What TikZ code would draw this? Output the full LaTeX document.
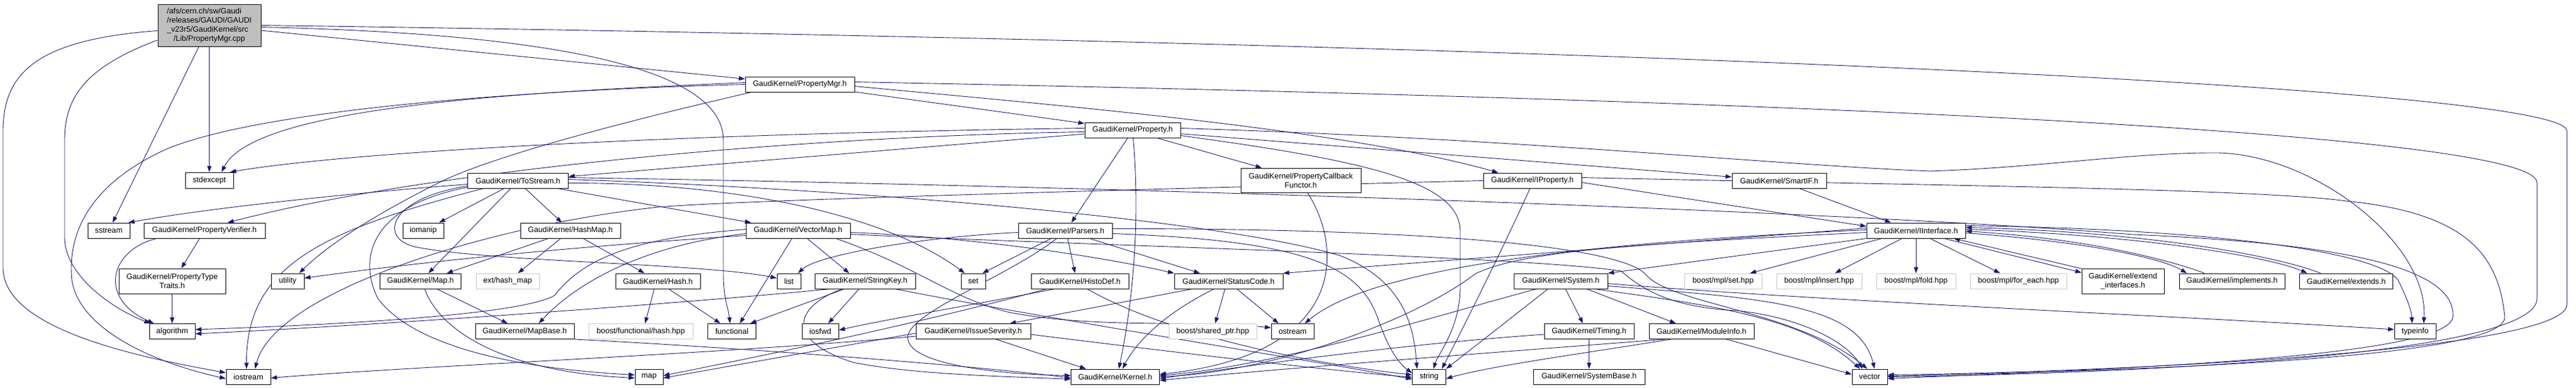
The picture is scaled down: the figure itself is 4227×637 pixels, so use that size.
\documentclass[tikz,border=0pt]{standalone}
\usepackage{fontspec}
\setmainfont{Liberation Sans}
\usetikzlibrary{arrows.meta,backgrounds}
\definecolor{edgeblue}{RGB}{25,25,112}
\definecolor{srcgray}{RGB}{191,191,191}
\definecolor{extgray}{RGB}{200,200,200}
\begin{document}
\begin{tikzpicture}[x=1pt, y=-1pt, >={Triangle[length=10pt,width=7pt]},
    every node/.style={shape=rectangle, draw, fill=white, align=center, inner sep=0pt, minimum height=25pt, line width=1pt, font=\fontsize{12.7}{15}\selectfont},
    src/.style={fill=srcgray},
    ext/.style={draw=extgray},
    dep/.style={->, draw=edgeblue, line width=0.9pt}]
            \useasboundingbox (0,0) rectangle (4227,637);
            % Nodes
            \node[src, minimum width=169pt, minimum height=69pt] (root) at (343.5,41.5) {\begin{tabular}{@{}l@{}}/afs/cern.ch/sw/Gaudi\\/releases/GAUDI/GAUDI\\\_v23r5/GaudiKernel/src\\\multicolumn{1}{@{}c@{}}{/Lib/PropertyMgr.cpp}\end{tabular}};
            \node[minimum width=179pt] (propmgr) at (1312.5,138.5) {GaudiKernel/PropertyMgr.h};
            \node[minimum width=157pt] (property) at (1858.5,213.5) {GaudiKernel/Property.h};
            \node[minimum width=79pt, minimum height=26pt] (stdexcept) at (343.5,296) {stdexcept};
            \node[minimum width=165pt] (tostream) at (850,296.5) {GaudiKernel/ToStream.h};
            \node[minimum width=197pt, minimum height=40pt] (callback) at (2134.5,296) {GaudiKernel/PropertyCallback\\Functor.h};
            \node[minimum width=161pt] (iproperty) at (2514.5,296.5) {GaudiKernel/IProperty.h};
            \node[minimum width=155pt] (smartif) at (2919.5,296.5) {GaudiKernel/SmartIF.h};
            \node[minimum width=69pt] (sstream) at (178.5,378.5) {sstream};
            \node[minimum width=199pt] (verifier) at (335.5,378.5) {GaudiKernel/PropertyVerifier.h};
            \node[minimum width=67pt] (iomanip) at (694.5,378.5) {iomanip};
            \node[minimum width=164pt] (hashmap) at (936,378.5) {GaudiKernel/HashMap.h};
            \node[minimum width=171pt] (vectormap) at (1309.5,378.5) {GaudiKernel/VectorMap.h};
            \node[minimum width=154pt] (parsers) at (1748,378.5) {GaudiKernel/Parsers.h};
            \node[minimum width=162pt] (iinterface) at (3144,378.5) {GaudiKernel/IInterface.h};
            \node[minimum width=175pt, minimum height=41pt] (typetraits) at (282.5,461.5) {GaudiKernel/PropertyType\\Traits.h};
            \node[minimum width=54pt] (utility) at (472,461.5) {utility};
            \node[minimum width=133pt] (mapH) at (690,461.5) {GaudiKernel/Map.h};
            \node[ext, minimum width=104pt] (hashext) at (833,461.5) {ext/hash\_map};
            \node[minimum width=139pt] (hash) at (1079.5,461.5) {GaudiKernel/Hash.h};
            \node[minimum width=39pt] (list) at (1294.5,461.5) {list};
            \node[minimum width=165pt] (stringkey) at (1419.5,461.5) {GaudiKernel/StringKey.h};
            \node[minimum width=40pt] (set) at (1597,461.5) {set};
            \node[minimum width=160pt] (histodef) at (1772,461.5) {GaudiKernel/HistoDef.h};
            \node[minimum width=178pt] (statuscode) at (2016,461.5) {GaudiKernel/StatusCode.h};
            \node[minimum width=154pt] (system) at (2561,461.5) {GaudiKernel/System.h};
            \node[ext, minimum width=127pt] (mplset) at (2827.5,461.5) {boost/mpl/set.hpp};
            \node[ext, minimum width=140pt] (mplinsert) at (2985,461.5) {boost/mpl/insert.hpp};
            \node[ext, minimum width=130pt] (mplfold) at (3144,461.5) {boost/mpl/fold.hpp};
            \node[ext, minimum width=158pt] (foreach) at (3312,461.5) {boost/mpl/for\_each.hpp};
            \node[minimum width=135pt, minimum height=41pt] (extendif) at (3483.5,462) {GaudiKernel/extend\\\_interfaces.h};
            \node[minimum width=173pt] (implements) at (3662.5,461.5) {GaudiKernel/implements.h};
            \node[minimum width=153pt] (extends) at (3850,461.5) {GaudiKernel/extends.h};
            \node[minimum width=75pt] (algorithm) at (282.5,544) {algorithm};
            \node[minimum width=162pt] (mapbase) at (861,544) {GaudiKernel/MapBase.h};
            \node[ext, minimum width=171pt] (boosthash) at (1051.5,544) {boost/functional/hash.hpp};
            \node[minimum width=79pt] (functional) at (1201,544) {functional};
            \node[minimum width=60pt] (iosfwd) at (1346,544) {iosfwd};
            \node[minimum width=188pt] (issue) at (1597,544) {GaudiKernel/IssueSeverity.h};
            \node[ext, minimum width=144pt] (sharedptr) at (1990,544) {boost/shared\_ptr.hpp};
            \node[minimum width=70pt] (ostream) at (2121,544) {ostream};
            \node[minimum width=147pt] (timing) at (2607.5,544) {GaudiKernel/Timing.h};
            \node[minimum width=172pt] (moduleinfo) at (2792,544) {GaudiKernel/ModuleInfo.h};
            \node[minimum width=68pt] (typeinfo) at (3963,544) {typeinfo};
            \node[minimum width=73pt] (iostream) at (407.5,618.5) {iostream};
            \node[minimum width=46pt] (map) at (1065,618.5) {map};
            \node[minimum width=145pt] (kernel) at (1830,618.5) {GaudiKernel/Kernel.h};
            \node[minimum width=55pt] (string) at (2345,618.5) {string};
            \node[minimum width=183pt] (systembase) at (2607.5,618.5) {GaudiKernel/SystemBase.h};
            \node[minimum width=58pt] (vector) at (3068,618.5) {vector};
            % Edges
            \begin{scope}[on background layer]
            \draw[dep] (root) -- (propmgr);
            \draw[dep] (root) -- (stdexcept);
            \draw[dep] (root) -- (sstream);
            \draw[dep] (root.196) .. controls (140,110) and (106,160) .. (106,230) -- (106,390) .. controls (106,450) and (180,505) .. (algorithm.160);
            \draw[dep] (root.186) .. controls (60,65) and (5,120) .. (5,215) -- (5,440) .. controls (5,545) and (250,590) .. (iostream.170);
            \draw[dep] ([yshift=-3pt]root.east) .. controls (900,55) and (1187,110) .. (1187,230) -- (1187,450) .. controls (1187,490) and (1195,505) .. ([xshift=-3pt]functional.north);
            \draw[dep] (root.east) .. controls (2500,70) and (4212,140) .. (4212,215) -- (4212,500) .. controls (4212,580) and (3400,612) .. ([yshift=3pt]vector.east);
            \draw[dep] (propmgr) -- (property);
            \draw[dep] ([yshift=-3pt]propmgr.east) .. controls (1700,170) and (2200,210) .. ([xshift=-56pt]iproperty.north);
            \draw[dep] ([yshift=4pt]propmgr.east) .. controls (3000,165) and (4163,220) .. (4163,300) -- (4163,490) .. controls (4163,590) and (3400,615) .. (vector.east);
            \draw[dep] ([yshift=3pt]propmgr.west) .. controls (900,150) and (420,170) .. ([xshift=20pt]stdexcept.north);
            \draw[dep] (propmgr.west) .. controls (800,150) and (420,185) .. (275,244) .. controls (150,300) and (110,380) .. (118,460) .. controls (130,540) and (250,595) .. ([yshift=-3pt]iostream.west);
            \draw[dep] ([xshift=-80pt]propmgr.south) .. controls (1000,205) and (800,260) .. (720,300) .. controls (620,350) and (540,400) .. ([xshift=19pt]utility.north);
            \draw[dep] (property) -- (tostream);
            \draw[dep] ([yshift=3pt]property.west) .. controls (1200,218) and (600,245) .. ([xshift=34pt]stdexcept.north);
            \draw[dep] ([yshift=-3pt]property.west) .. controls (1300,224) and (700,280) .. ([xshift=38pt]verifier.north);
            \draw[dep] ([xshift=-8pt]property.south) -- ([xshift=10pt]parsers.north);
            \draw[dep] ([xshift=1pt]property.south) .. controls (1870,350) and (1862,480) .. ([xshift=6pt]kernel.north);
            \draw[dep] ([xshift=40pt]property.south) -- ([xshift=-64pt]callback.north);
            \draw[dep] (property) -- (smartif);
            \draw[dep] ([yshift=-9pt]property.east) .. controls (2250,265) and (2396,300) .. (2396,380) -- (2396,470) .. controls (2396,540) and (2360,580) .. ([xshift=7pt]string.north);
            \draw[dep] ([yshift=3pt]property.east) .. controls (2500,228) and (2900,270) .. (3167,281) .. controls (3350,275) and (3500,250) .. (3640,251) .. controls (3800,255) and (3985,400) .. ([xshift=14pt]typeinfo.north);
            \draw[dep] ([xshift=-23pt]tostream.south) -- ([xshift=26pt]iomanip.north);
            \draw[dep] ([xshift=-12pt]tostream.south) -- ([xshift=13pt]mapH.north);
            \draw[dep] ([xshift=12pt]tostream.south) -- ([xshift=-14pt]hashmap.north);
            \draw[dep] ([xshift=65pt]tostream.south) -- ([xshift=-77pt]vectormap.north);
            \draw[dep] ([yshift=-6pt]tostream.west) .. controls (600,315) and (350,340) .. (sstream.22);
            \draw[dep] ([yshift=-9pt]tostream.west) .. controls (640,325) and (620,390) .. (680,405) .. controls (800,430) and (1150,432) .. ([yshift=5pt]list.west);
            \draw[dep] ([yshift=-11pt]tostream.west) .. controls (600,340) and (590,430) .. (620,490) .. controls (680,570) and (850,605) .. ([yshift=3pt]map.west);
            \draw[dep] ([xshift=-57pt]tostream.south) .. controls (520,380) and (404,440) .. ([xshift=-3pt]iostream.north);
            \draw[dep] ([yshift=-4pt]tostream.east) .. controls (1200,300) and (1450,350) .. ([xshift=-14pt]set.north);
            \draw[dep] ([yshift=2pt]tostream.east) .. controls (1400,310) and (2000,360) .. (2200,420) .. controls (2300,460) and (2320,530) .. ([xshift=-20pt]string.north);
            \draw[dep] ([yshift=5pt]tostream.east) .. controls (1800,305) and (3000,345) .. (3500,385) .. controls (3850,400) and (4030,440) .. (4025,520) .. controls (4020,585) and (3500,605) .. ([yshift=-3pt]vector.east);
            \draw[dep] ([yshift=-3pt]iproperty.east) -- ([yshift=7pt]iinterface.west);
            \draw[dep] ([xshift=-4pt]iproperty.south) .. controls (2470,400) and (2400,540) .. ([xshift=21pt]string.north);
            \draw[dep] ([yshift=5pt]iproperty.east) .. controls (3200,305) and (3700,310) .. (3850,330) .. controls (4050,350) and (4100,420) .. (4110,520) .. controls (4115,590) and (3500,608) .. ([yshift=1pt]vector.east);
            \draw[dep] (iproperty.west) .. controls (1700,315) and (1200,330) .. (1080,340) .. controls (800,370) and (450,480) .. ([xshift=11pt]iostream.north);
            \draw[dep] ([xshift=33pt]smartif.south) -- ([xshift=-41pt]iinterface.north);
            \draw[dep] ([xshift=11pt]callback.south) .. controls (2200,400) and (2220,580) .. ([yshift=4pt]kernel.east);
            \draw[dep] ([xshift=-8pt]verifier.south) -- ([xshift=15pt]typetraits.north);
            \draw[dep] ([xshift=-78pt]verifier.south) .. controls (180,410) and (160,490) .. ([xshift=-30pt]algorithm.north);
            \draw[dep] (typetraits) -- (algorithm);
            \draw[dep] ([xshift=-36pt]hashmap.south) -- ([xshift=43pt]mapH.north);
            \draw[dep] ([xshift=-16pt]hashmap.south) -- ([xshift=17pt]hashext.north);
            \draw[dep] ([xshift=21pt]hashmap.south) -- ([xshift=-22pt]hash.north);
            \draw[dep] ([xshift=27pt]mapH.south) -- ([xshift=-28pt]mapbase.north);
            \draw[dep] ([xshift=7pt]mapH.south) .. controls (720,540) and (820,610) .. ([yshift=-2pt]map.west);
            \draw[dep] ([xshift=-6pt]hash.south) -- ([xshift=7pt]boosthash.north);
            \draw[dep] ([xshift=18pt]hash.south) -- ([xshift=-19pt]functional.north);
            \draw[dep] (mapbase.south east) .. controls (1200,570) and (1600,600) .. ([yshift=-2pt]kernel.west);
            \draw[dep] ([xshift=15pt]vectormap.south) -- ([xshift=-26pt]stringkey.north);
            \draw[dep] ([xshift=-10pt]vectormap.south) -- ([xshift=13pt]functional.north);
            \draw[dep] ([yshift=-5pt]vectormap.west) .. controls (1080,400) and (960,450) .. ([xshift=23pt]mapbase.north);
            \draw[dep] ([yshift=2pt]vectormap.west) .. controls (1050,390) and (960,420) .. (910,485) .. controls (850,520) and (500,535) .. ([yshift=3pt]algorithm.east);
            \draw[dep] ([yshift=-8pt]vectormap.west) .. controls (1100,395) and (800,415) .. ([yshift=5pt]utility.east);
            \draw[dep] ([yshift=-3pt]vectormap.east) .. controls (1600,390) and (1800,420) .. (statuscode.north west);
            \draw[dep] ([xshift=62pt]vectormap.south) .. controls (1510,440) and (1560,490) .. (1657,513) .. controls (1800,540) and (1950,525) .. ([yshift=6pt]ostream.west);
            \draw[dep] ([yshift=-6pt]vectormap.east) .. controls (1700,400) and (2500,420) .. (2660,445) .. controls (2700,480) and (2750,505) .. (2850,510) .. controls (2950,520) and (3030,560) .. ([xshift=-12pt]vector.north);
            \draw[dep] ([xshift=-23pt]parsers.south) -- ([xshift=15pt]set.north);
            \draw[dep] ([xshift=4pt]parsers.south) -- ([xshift=-8pt]histodef.north);
            \draw[dep] ([xshift=40pt]parsers.south) -- ([xshift=-47pt]statuscode.north);
            \draw[dep] ([yshift=-3pt]parsers.west) .. controls (1500,390) and (1340,420) .. ([xshift=15pt]list.north);
            \draw[dep] ([xshift=-14pt]parsers.south) .. controls (1660,450) and (1500,510) .. (1490,550) .. controls (1480,600) and (1650,615) .. ([yshift=2pt]kernel.west);
            \draw[dep] ([yshift=-5pt]parsers.east) .. controls (2150,395) and (2230,440) .. (2260,520) .. controls (2280,580) and (2300,600) .. ([yshift=6pt]string.west);
            \draw[dep] ([yshift=3pt]parsers.east) .. controls (2300,375) and (2650,400) .. (2700,450) .. controls (2740,500) and (2950,510) .. ([xshift=-4pt]vector.north);
            \draw[dep] ([xshift=-42pt]histodef.south) .. controls (1600,500) and (1450,525) .. ([yshift=2pt]iosfwd.east);
            \draw[dep] ([xshift=-55pt]histodef.south) .. controls (1550,520) and (1300,575) .. ([yshift=2pt]map.east);
            \draw[dep] ([xshift=12pt]histodef.south) .. controls (1900,540) and (2100,590) .. ([yshift=3pt]string.west);
            \draw[dep] ([xshift=37pt]issue.south) -- ([xshift=-48pt]kernel.north);
            \draw[dep] ([yshift=-3pt]issue.west) -- ([yshift=-2pt]map.east);
            \draw[dep] ([yshift=-8pt]issue.west) .. controls (1200,580) and (700,600) .. ([yshift=-2pt]iostream.east);
            \draw[dep] ([yshift=-5pt]issue.east) .. controls (1900,575) and (2150,605) .. ([yshift=-1pt]string.west);
            \draw[dep] ([xshift=-60pt]statuscode.south) -- ([xshift=60pt]issue.north);
            \draw[dep] ([xshift=-24pt]statuscode.south) .. controls (1900,520) and (1860,570) .. ([xshift=12pt]kernel.north);
            \draw[dep] ([xshift=-6pt]statuscode.south) -- ([xshift=4pt]sharedptr.north);
            \draw[dep] ([xshift=14pt]statuscode.south) -- ([xshift=-23pt]ostream.north);
            \draw[dep] ([xshift=-10pt]stringkey.south) -- ([xshift=13pt]iosfwd.north);
            \draw[dep] ([xshift=-34pt]stringkey.south) -- ([xshift=30pt]functional.north);
            \draw[dep] ([xshift=-58pt]stringkey.south) .. controls (1100,500) and (600,535) .. ([yshift=-4pt]algorithm.east);
            \draw[dep] ([xshift=-38pt]stringkey.south) .. controls (1300,505) and (1290,560) .. (1400,595) .. controls (1500,615) and (1650,618) .. ([yshift=-4pt]kernel.west);
            \draw[dep] ([xshift=50pt]stringkey.south) .. controls (1700,520) and (2200,600) .. ([yshift=-4pt]string.west);
            \draw[dep] (iinterface.south west) -- (system.north east);
            \draw[dep] ([xshift=-56pt]iinterface.south) -- ([xshift=44pt]mplset.north);
            \draw[dep] ([xshift=-23pt]iinterface.south) -- ([xshift=26pt]mplinsert.north);
            \draw[dep] (iinterface) -- (mplfold);
            \draw[dep] ([xshift=23pt]iinterface.south) -- ([xshift=-30pt]foreach.north);
            \draw[dep] ([xshift=46pt]iinterface.south) -- (extendif.168);
            \draw[dep] (extendif.north west) -- ([xshift=62pt]iinterface.south);
            \draw[dep] ([yshift=-4pt]iinterface.east) .. controls (3400,395) and (3540,420) .. ([xshift=-74pt]implements.north);
            \draw[dep] ([xshift=-45pt]implements.north) .. controls (3540,420) and (3400,390) .. ([yshift=-1pt]iinterface.east);
            \draw[dep] ([yshift=2pt]iinterface.east) .. controls (3500,385) and (3720,420) .. ([xshift=-64pt]extends.north);
            \draw[dep] ([xshift=-42pt]extends.north) .. controls (3720,415) and (3500,380) .. ([yshift=5pt]iinterface.east);
            \draw[dep] ([yshift=8pt]iinterface.east) .. controls (3600,375) and (3900,410) .. (3935,460) .. controls (3950,490) and (3957,510) .. ([xshift=-5pt]typeinfo.north);
            \draw[dep] ([yshift=4pt]iinterface.west) -- (statuscode.north east);
            \draw[dep] ([yshift=1pt]iinterface.west) .. controls (2600,398) and (2250,440) .. ([xshift=20pt]ostream.north);
            \draw[dep] ([yshift=-3pt]iinterface.west) .. controls (2700,400) and (2500,410) .. (2420,450) .. controls (2330,520) and (2100,610) .. (kernel.east);
            \draw[dep] ([xshift=8pt]system.south) -- ([xshift=-10pt]timing.north);
            \draw[dep] ([xshift=43pt]system.south) -- ([xshift=-42pt]moduleinfo.north);
            \draw[dep] ([xshift=-21pt]system.south) -- (string.north east);
            \draw[dep] ([xshift=-40pt]system.south) .. controls (2350,520) and (2100,600) .. ([yshift=2pt]kernel.east);
            \draw[dep] ([xshift=56pt]system.south) .. controls (2800,500) and (2960,520) .. ([xshift=-16pt]vector.north);
            \draw[dep] ([yshift=-8pt]system.east) .. controls (2900,490) and (3050,500) .. ([xshift=8pt]vector.north);
            \draw[dep] ([yshift=-4pt]system.east) .. controls (3000,495) and (3600,520) .. ([yshift=3pt]typeinfo.west);
            \draw[dep] (timing) -- (systembase);
            \draw[dep] ([yshift=-5pt]timing.west) .. controls (2300,565) and (2050,600) .. ([yshift=-3pt]kernel.east);
            \draw[dep] ([xshift=-60pt]moduleinfo.south) .. controls (2500,575) and (2100,605) .. ([yshift=-6pt]kernel.east);
            \draw[dep] ([xshift=-50pt]moduleinfo.south) .. controls (2600,580) and (2450,600) .. ([yshift=-3pt]string.east);
            \draw[dep] ([xshift=41pt]moduleinfo.south) -- ([yshift=4pt]vector.west);
            \end{scope}
        \end{tikzpicture}
\end{document}
